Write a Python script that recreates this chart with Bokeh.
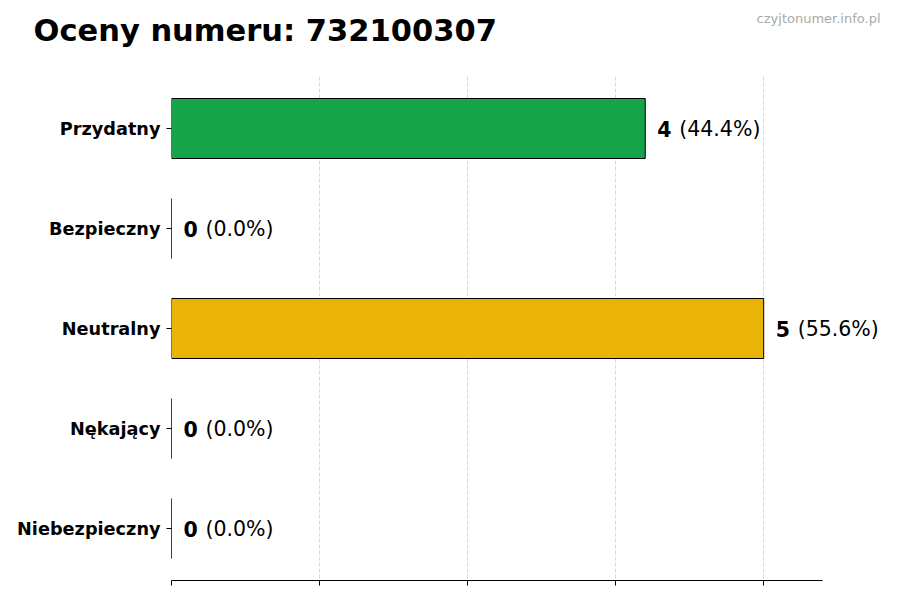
from bokeh.plotting import figure
from bokeh.models import Range1d, FixedTicker, ColumnDataSource, Title
from bokeh.core.properties import value
from bokeh.embed import file_html
from bokeh.resources import INLINE

# ---- data ----
title_text = "Oceny numeru: 732100307"
watermark = "czyjtonumer.info.pl"
categories = ["Przydatny", "Bezpieczny", "Neutralny", "Nękający", "Niebezpieczny"]
counts = [4, 0, 5, 0, 0]
colors = ["#16a34a", "#22c55e", "#eab308", "#f97316", "#dc2626"]

total = sum(counts)
pcts = [c / total * 100 for c in counts]
ypos = list(range(len(categories)))
maxv = max(counts)

FONT = "DejaVu Sans"
XMAX = maxv * 1.1          # end of the drawn x axis
XEND = XMAX + 0.52         # frame extends to the right so the value labels fit
YTOP, YBOT = -0.52, len(categories) - 1 + 0.52

src = ColumnDataSource(dict(
    y=ypos, right=counts, color=colors,
    num=[str(c) for c in counts],
    pct=["(%.1f%%)" % p for p in pcts],
))

p = figure(width=884, height=592, output_backend="svg", toolbar_location=None,
           x_range=Range1d(0, XEND), y_range=Range1d(YBOT, YTOP),
           min_border_left=171, min_border_right=0, min_border_top=76, min_border_bottom=12)
p.outline_line_color = None

# title and watermark: zero-height panels, texts lifted by negative standoffs
p.title.text = title_text
p.title.align = "left"
p.title.vertical_align = "top"
p.title.offset = -138
p.title.standoff = -127
p.title.text_font = FONT
p.title.text_font_style = "bold"
p.title.text_font_size = "30.5px"
p.title.text_color = "black"

p.add_layout(Title(text=watermark, align="right", vertical_align="top", offset=4,
                   standoff=-132, text_font=FONT, text_font_style="normal",
                   text_font_size="13px", text_color="#aaaaaa"), "above")

p.hbar(y="y", right="right", left=0, height=0.6, fill_color="color",
       line_color="black", line_width=1, source=src)

p.text(x="right", y="y", text="num", source=src, x_offset=12,
       text_font=value(FONT), text_font_style="bold", text_font_size="20.5px",
       text_baseline="middle", text_align="left", text_color="black")
p.text(x="right", y="y", text="pct", source=src, x_offset=34,
       text_font=value(FONT), text_font_size="20.5px",
       text_baseline="middle", text_align="left", text_color="black")

# x axis (ticks without labels)
xticks = [maxv * i / 4 for i in range(5)]
xa = p.xaxis[0]
xa.ticker = FixedTicker(ticks=xticks)
xa.bounds = (0, XMAX)
xa.major_label_overrides = {t: "" for t in xticks}
xa.major_label_text_font_size = "1px"
xa.major_label_standoff = 0
xa.major_tick_out = 5
xa.major_tick_in = 0
xa.minor_tick_out = 0
xa.minor_tick_in = 0
xa.axis_line_color = "black"
xa.axis_line_width = 1.2

# y axis
ya = p.yaxis[0]
ya.ticker = FixedTicker(ticks=ypos)
ya.major_label_overrides = {i: c for i, c in zip(ypos, categories)}
ya.major_label_text_font = FONT
ya.major_label_text_font_style = "bold"
ya.major_label_text_font_size = "17.7px"
ya.major_label_text_color = "black"
ya.major_label_standoff = 6
ya.major_tick_out = 5
ya.major_tick_in = 0
ya.minor_tick_out = 0
ya.minor_tick_in = 0
ya.axis_line_color = None

p.xgrid.grid_line_color = "#cccccc"
p.xgrid.grid_line_dash = "4 2"
p.xgrid.grid_line_width = 0.8
p.xgrid.ticker = FixedTicker(ticks=xticks)
p.ygrid.grid_line_color = None

open("out.html", "w").write(file_html(p, INLINE))
